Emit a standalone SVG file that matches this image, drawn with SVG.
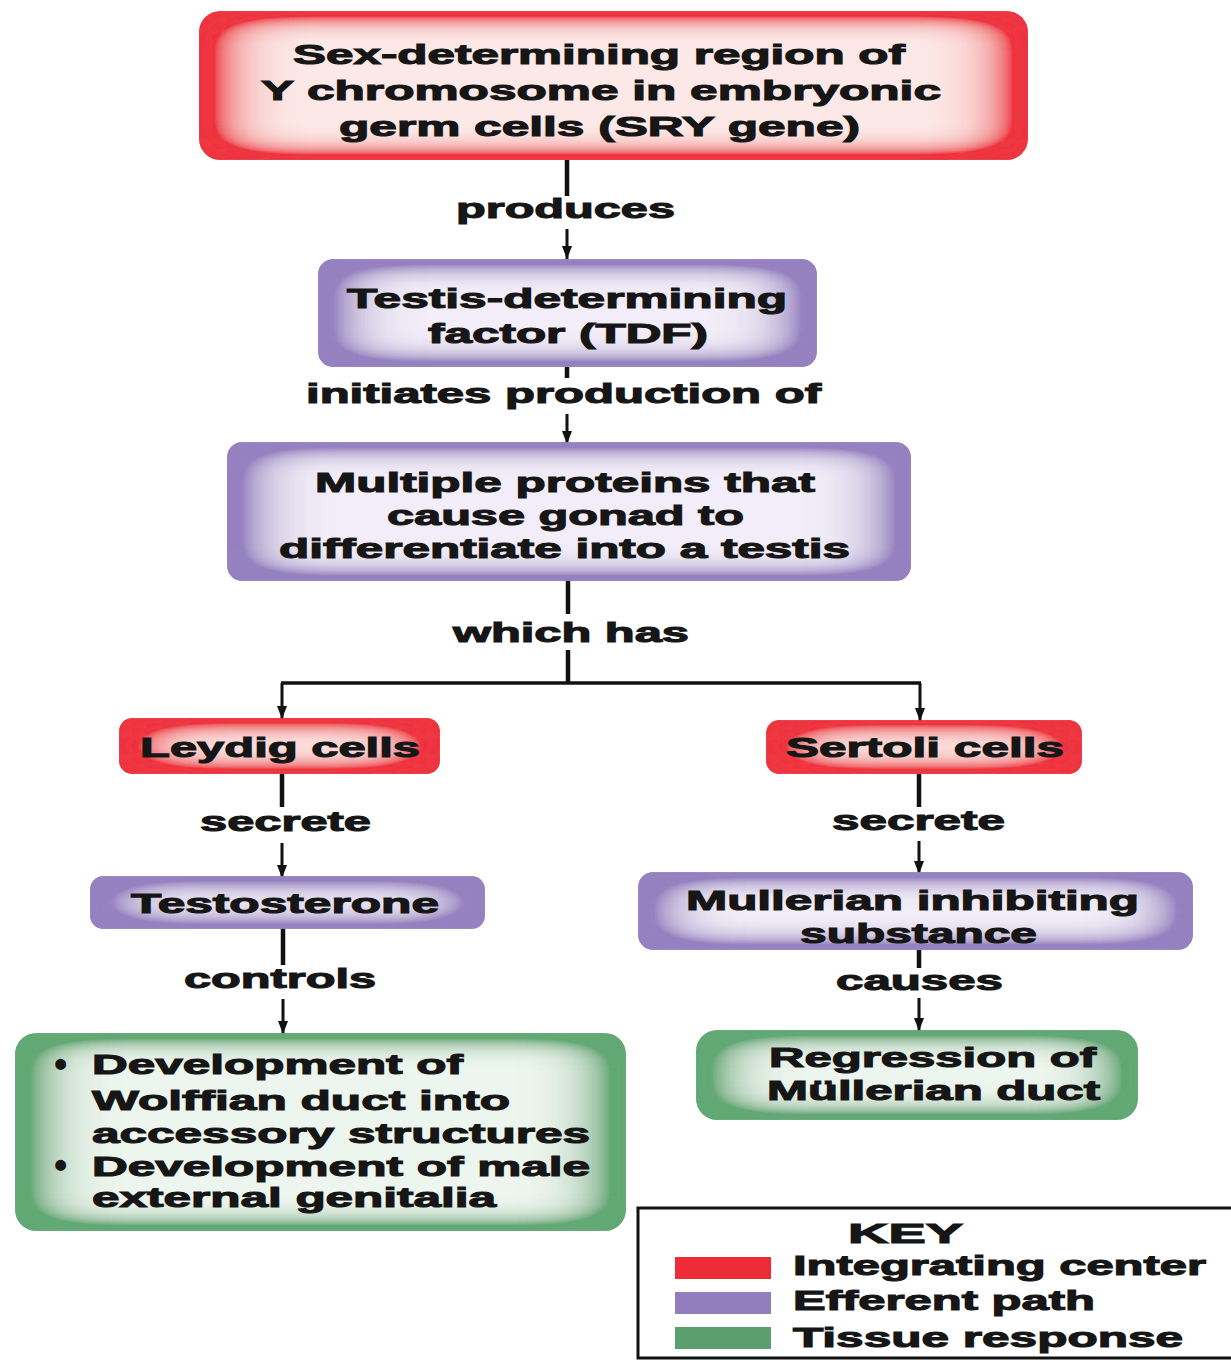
<svg xmlns="http://www.w3.org/2000/svg" width="1231" height="1360" viewBox="0 0 1231 1360">
<style>
.t{font-family:"Liberation Sans",Arial,sans-serif;font-weight:bold;font-size:28px;fill:#161616;stroke:#161616;stroke-width:1.1px}
.b{font-family:"Liberation Sans",Arial,sans-serif;font-weight:bold;font-size:38px;fill:#161616}
.stem{stroke:#111;stroke-width:4.5;fill:none}
.arr{stroke:#111;stroke-width:3;fill:none;marker-end:url(#ah)}
.red{fill:#fce9e7;stroke:#ec3440;stroke-width:1.5;filter:url(#fRed)}
.pur{fill:#f2edf8;stroke:#9580bf;stroke-width:1.5;filter:url(#fPur)}
.grn{fill:#edf6ee;stroke:#62a874;stroke-width:1.5;filter:url(#fGrn)}
</style>
<defs>
<filter id="fRed" x="-50%" y="-50%" width="200%" height="200%">
<feFlood flood-color="#ee3540"/>
<feComposite in2="SourceAlpha" operator="out"/>
<feGaussianBlur stdDeviation="45 15"/>
<feComponentTransfer><feFuncA type="linear" slope="2.7"/></feComponentTransfer>
<feComposite in2="SourceAlpha" operator="in" result="glow"/>
<feMerge><feMergeNode in="SourceGraphic"/><feMergeNode in="glow"/></feMerge>
</filter>
<filter id="fPur" x="-50%" y="-50%" width="200%" height="200%">
<feFlood flood-color="#9681c0"/>
<feComposite in2="SourceAlpha" operator="out"/>
<feGaussianBlur stdDeviation="45 15"/>
<feComponentTransfer><feFuncA type="linear" slope="2.7"/></feComponentTransfer>
<feComposite in2="SourceAlpha" operator="in" result="glow"/>
<feMerge><feMergeNode in="SourceGraphic"/><feMergeNode in="glow"/></feMerge>
</filter>
<filter id="fGrn" x="-50%" y="-50%" width="200%" height="200%">
<feFlood flood-color="#62a874"/>
<feComposite in2="SourceAlpha" operator="out"/>
<feGaussianBlur stdDeviation="45 15"/>
<feComponentTransfer><feFuncA type="linear" slope="2.7"/></feComponentTransfer>
<feComposite in2="SourceAlpha" operator="in" result="glow"/>
<feMerge><feMergeNode in="SourceGraphic"/><feMergeNode in="glow"/></feMerge>
</filter>
<marker id="ah" viewBox="0 0 13 10" refX="13" refY="5" markerWidth="13" markerHeight="10" markerUnits="userSpaceOnUse" orient="auto">
<path d="M0,0 L13,5 L0,10 z" fill="#111"/>
</marker>
</defs>
<rect width="1231" height="1360" fill="#ffffff"/>

<g id="connectors">
<line class="stem" x1="567" y1="160" x2="567" y2="196"/>
<line class="arr" x1="567" y1="229" x2="567" y2="259"/>
<line class="stem" x1="567" y1="367" x2="567" y2="378"/>
<line class="arr" x1="567" y1="414" x2="567" y2="444"/>
<line class="stem" x1="568" y1="580" x2="568" y2="614"/>
<polyline class="stem" points="568,650 568,683"/>
<polyline class="stem" style="stroke-width:3.5" points="281,683 921,683"/>
<line class="arr" x1="282" y1="683" x2="282" y2="719"/>
<line class="arr" x1="920" y1="683" x2="920" y2="721"/>
<line class="stem" x1="282" y1="774" x2="282" y2="807"/>
<line class="arr" x1="282" y1="843" x2="282" y2="878"/>
<line class="stem" x1="283" y1="928" x2="283" y2="965"/>
<line class="arr" x1="283" y1="999" x2="283" y2="1034"/>
<line class="stem" x1="919" y1="774" x2="919" y2="807"/>
<line class="arr" x1="919" y1="841" x2="919" y2="874"/>
<line class="stem" x1="919" y1="950" x2="919" y2="968"/>
<line class="arr" x1="919" y1="998" x2="919" y2="1031"/>
</g>

<g id="labels">
<text class="t" x="456" y="218" textLength="219" lengthAdjust="spacingAndGlyphs">produces</text>
<text class="t" x="306" y="403" textLength="515" lengthAdjust="spacingAndGlyphs">initiates production of</text>
<text class="t" x="453" y="642" textLength="236" lengthAdjust="spacingAndGlyphs">which has</text>
<text class="t" x="200" y="831" textLength="171" lengthAdjust="spacingAndGlyphs">secrete</text>
<text class="t" x="184" y="988" textLength="192" lengthAdjust="spacingAndGlyphs">controls</text>
<text class="t" x="832" y="830" textLength="173" lengthAdjust="spacingAndGlyphs">secrete</text>
<text class="t" x="836" y="990" textLength="167" lengthAdjust="spacingAndGlyphs">causes</text>
</g>

<g id="sry">
<rect class="red" x="200" y="12" width="827" height="147" rx="20"/>
<text class="t" x="293" y="64" textLength="612" lengthAdjust="spacingAndGlyphs">Sex-determining region of</text>
<text class="t" x="261" y="100" textLength="680" lengthAdjust="spacingAndGlyphs">Y chromosome in embryonic</text>
<text class="t" x="339" y="136" textLength="521" lengthAdjust="spacingAndGlyphs">germ cells (SRY gene)</text>
</g>

<g id="tdf">
<rect class="pur" x="319" y="260" width="497" height="106" rx="14"/>
<text class="t" x="347" y="308" textLength="440" lengthAdjust="spacingAndGlyphs">Testis-determining</text>
<text class="t" x="428" y="343" textLength="280" lengthAdjust="spacingAndGlyphs">factor (TDF)</text>
</g>

<g id="proteins">
<rect class="pur" x="228" y="443" width="682" height="137" rx="14"/>
<text class="t" x="315" y="492" textLength="500" lengthAdjust="spacingAndGlyphs">Multiple proteins that</text>
<text class="t" x="387" y="525" textLength="357" lengthAdjust="spacingAndGlyphs">cause gonad to</text>
<text class="t" x="279" y="558" textLength="571" lengthAdjust="spacingAndGlyphs">differentiate into a testis</text>
</g>

<g id="leydig">
<rect class="red" x="120" y="719" width="319" height="54" rx="12"/>
<text class="t" x="140" y="757" textLength="280" lengthAdjust="spacingAndGlyphs">Leydig cells</text>
</g>

<g id="testosterone">
<rect class="pur" x="91" y="877" width="393" height="51" rx="12"/>
<text class="t" x="131" y="913" textLength="308" lengthAdjust="spacingAndGlyphs">Testosterone</text>
</g>

<g id="wolffian">
<rect class="grn" x="16" y="1034" width="609" height="196" rx="20"/>
<text class="b" x="54" y="1077">•</text>
<text class="t" x="92" y="1074" textLength="371" lengthAdjust="spacingAndGlyphs">Development of</text>
<text class="t" x="92" y="1110" textLength="418" lengthAdjust="spacingAndGlyphs">Wolffian duct into</text>
<text class="t" x="92" y="1143" textLength="498" lengthAdjust="spacingAndGlyphs">accessory structures</text>
<text class="b" x="54" y="1178">•</text>
<text class="t" x="92" y="1176" textLength="498" lengthAdjust="spacingAndGlyphs">Development of male</text>
<text class="t" x="92" y="1207" textLength="404" lengthAdjust="spacingAndGlyphs">external genitalia</text>
</g>

<g id="sertoli">
<rect class="red" x="767" y="721" width="314" height="52" rx="12"/>
<text class="t" x="786" y="757" textLength="278" lengthAdjust="spacingAndGlyphs">Sertoli cells</text>
</g>

<g id="mis">
<rect class="pur" x="639" y="873" width="553" height="76" rx="14"/>
<text class="t" x="686" y="910" textLength="453" lengthAdjust="spacingAndGlyphs">Mullerian inhibiting</text>
<text class="t" x="800" y="943" textLength="237" lengthAdjust="spacingAndGlyphs">substance</text>
</g>

<g id="regression">
<rect class="grn" x="697" y="1031" width="440" height="88" rx="20"/>
<text class="t" x="769" y="1067" textLength="327" lengthAdjust="spacingAndGlyphs">Regression of</text>
<text class="t" x="767" y="1100" textLength="333" lengthAdjust="spacingAndGlyphs">Müllerian duct</text>
</g>

<g id="key">
<rect x="638" y="1208" width="596" height="150" fill="#ffffff" stroke="#111" stroke-width="3"/>
<text class="t" x="848" y="1243" textLength="115" lengthAdjust="spacingAndGlyphs">KEY</text>
<rect x="675" y="1257" width="96" height="22" fill="#ee2c38"/>
<rect x="675" y="1292" width="96" height="22" fill="#927dbd"/>
<rect x="675" y="1327" width="96" height="22" fill="#5c9f6e"/>
<text class="t" x="793" y="1275" textLength="413" lengthAdjust="spacingAndGlyphs">Integrating center</text>
<text class="t" x="793" y="1310" textLength="302" lengthAdjust="spacingAndGlyphs">Efferent path</text>
<text class="t" x="793" y="1347" textLength="390" lengthAdjust="spacingAndGlyphs">Tissue response</text>
</g>
</svg>
